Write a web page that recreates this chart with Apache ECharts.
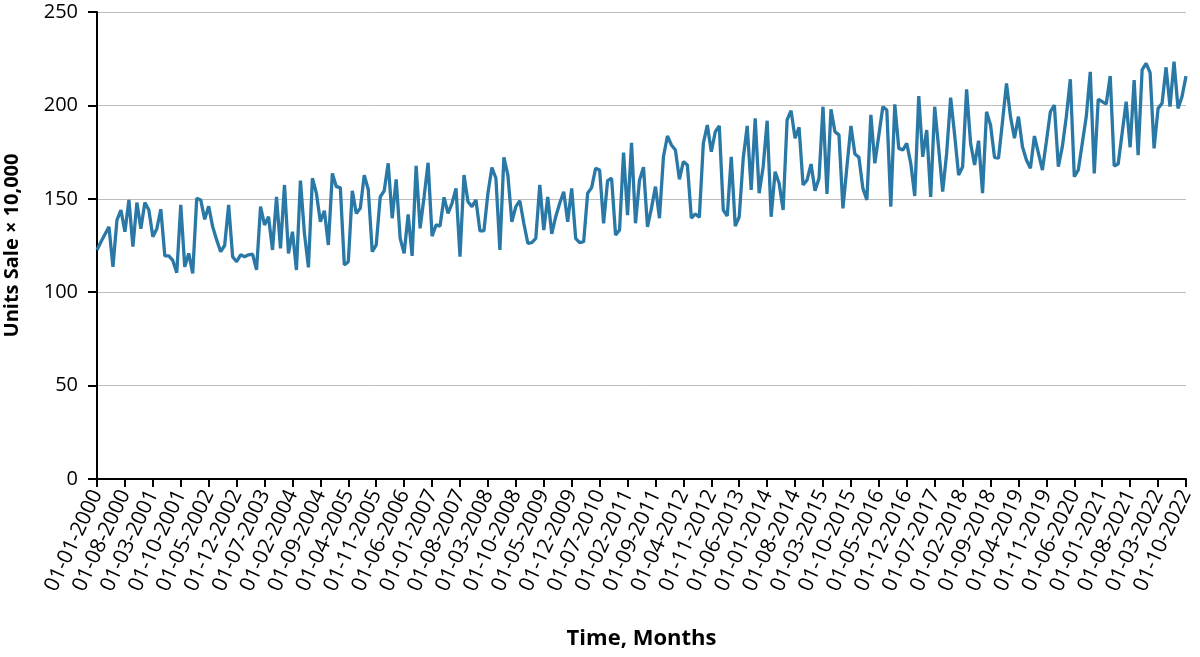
<!DOCTYPE html>
<html>
<head>
<meta charset="utf-8">
<script src="https://cdn.jsdelivr.net/npm/echarts@6/dist/echarts.min.js"></script>
<style>html,body{margin:0;padding:0;background:#fff}#c{width:1200px;height:657px}</style>
</head>
<body>
<div id="c"></div>
<script>
// Monthly categories: 01-01-2000 .. 01-10-2022
const startYear = 2000, startMonth = 1, monthCount = 274;
const categories = [];
for (let k = 0; k < monthCount; k++) {
  const m = (startMonth - 1 + k) % 12 + 1;
  const y = startYear + Math.floor((startMonth - 1 + k) / 12);
  categories.push('01-' + String(m).padStart(2, '0') + '-' + y);
}
const yTicks = [0, 50, 100, 150, 200, 250];

const sales2000_2002 = [122.6,127,131,135,113.6,138.6,144,132.4,149.4,124.4,148,134,148,144,129.7,134,144.4,119.4,119.4,117,110.4,146.7,113.6,120.8,110,150.3,149.4,139,146,135,128,121.7,125,146.7,119];
const sales2002_2005 = [116.3,120,119,120,120.4,111.9,145.8,136,140.4,122.6,151,123.5,157.4,120.8,132.4,111.9,159.7,131.5,113.3,161,153,137.7,143.6,125.3,163.6,156.5,156,114.6,116.3,154.3,142.2,144.9,162.7,155];
const sales2005_2008 = [121.7,125.3,151,154.3,169,139.6,160.4,128.8,120.8,141.7,119.4,167.7,134.2,151,169.3,130,136,135.4,150.8,142.2,147.6,155.6,119,162.7,148.4,145.8,149.4,132.8,132.8,153,166.7,161,122.6,172.2];
const sales2008_2011 = [162.7,137.7,145.8,149,136.9,126.2,126.5,128.8,157.4,133.3,151,131.2,140.4,147.6,153.8,137.7,155.6,128.8,126.5,127,153,156,166.3,165.4,136.9,159.7,161,130.6,133.3,174.7,141.3,180,136.9];
const sales2011_2014 = [160,166.9,135,145,156.5,139.6,172.5,183.6,178.8,176.1,160.4,169.9,168.1,139.6,141.9,140.1,179.7,189.5,175.2,185.9,189,144,140.8,172.5,135.4,140.4,171.7,189,154.7,193.1,153,167.2,191.8,140.4,164.5];
const sales2014_2016 = [158.3,144,192.2,197.2,182.4,188.3,157.4,160,168.6,154.3,161,199.3,152.6,197.9,185.9,184.2,144.9,167.2,189,174,172.2,155.6,149.4,194.9,169,184.2,199.3,197.5,145.8,200.6,177,176.1,179.7];
const sales2017_2019 = [169,151.5,205,172.5,186.8,151,199.3,177,153.8,174.4,204.1,184.2,162.7,167.2,208.6,179.7,168.1,181.1,153,196.6,189.5,172.2,171.7,191.3,211.8,194,182.4,194,177.9,170.8,166.3,183.6,174.4,165.4,180.6];
const sales2019_2022 = [196.6,200.2,167.2,177.9,194,214,161.8,165.4,179.7,194,218,163.6,203.3,202,200.7,215.7,167.6,168.6,185.4,202,177.6,213.6,173.4,219,222.5,217.5,177,198.4,201.1,220.4,199.3,223.4,198.4,204.7,215.7];

const sales = [].concat(sales2000_2002, sales2002_2005, sales2005_2008, sales2008_2011,
  sales2011_2014, sales2014_2016, sales2017_2019, sales2019_2022);

const chart = echarts.init(document.getElementById('c'), null, {renderer: 'canvas'});
const font = '"Open Sans", "Noto Sans", sans-serif';
chart.setOption({
  animation: false,
  backgroundColor: '#fff',
  grid: {left: 97, right: 14, top: 12, bottom: 178, containLabel: false, outerBoundsMode: 'none'},
  xAxis: {
    type: 'category',
    data: categories.slice(0, sales.length),
    boundaryGap: false,
    name: 'Time, Months',
    nameLocation: 'middle',
    nameGap: 149,
    nameTextStyle: {fontFamily: font, fontWeight: 'bold', fontSize: 22, color: '#000'},
    axisLine: {lineStyle: {color: '#000', width: 2}},
    axisTick: {show: true, interval: 6, length: 8, lineStyle: {color: '#000', width: 2}},
    axisLabel: {interval: 6, rotate: 65, margin: 12, fontFamily: font, fontSize: 21, color: '#000'},
    splitLine: {show: false}
  },
  yAxis: {
    type: 'value',
    min: yTicks[0],
    max: yTicks[yTicks.length - 1],
    interval: 50,
    name: 'Units Sale × 10,000',
    nameLocation: 'middle',
    nameGap: 75,
    nameTextStyle: {fontFamily: font, fontWeight: 'bold', fontSize: 20, color: '#000'},
    axisLine: {show: true, lineStyle: {color: '#000', width: 2}},
    axisTick: {show: true, length: 9, lineStyle: {color: '#000', width: 2}},
    axisLabel: {margin: 19, fontFamily: font, fontSize: 20, color: '#000'},
    splitLine: {show: true, lineStyle: {color: '#bdbdbd', width: 1}}
  },
  series: [{
    type: 'line',
    data: sales,
    showSymbol: false,
    symbol: 'none',
    lineStyle: {color: '#2a78a6', width: 3.3},
    itemStyle: {color: '#2a78a6'}
  }]
});
</script>
</body>
</html>
